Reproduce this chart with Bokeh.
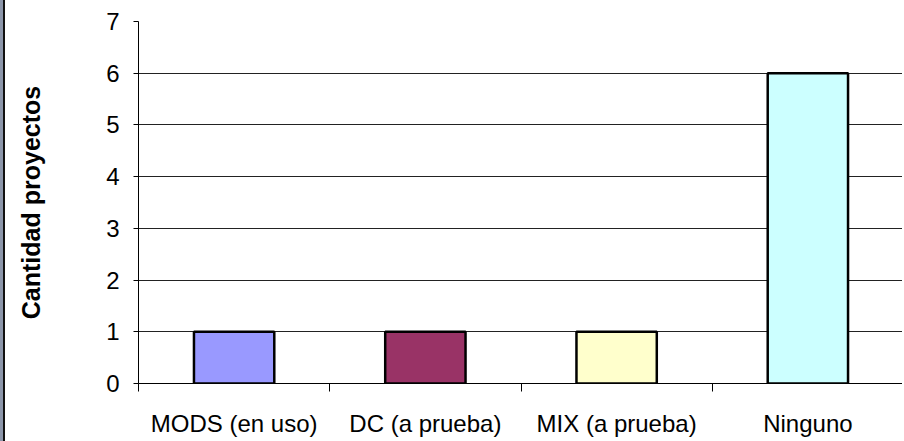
from bokeh.plotting import figure
from bokeh.models import ColumnDataSource, FixedTicker, Range1d
from bokeh.embed import file_html
from bokeh.resources import INLINE

categories = ["MODS (en uso)", "DC (a prueba)", "MIX (a prueba)", "Ninguno"]
values = [1, 1, 1, 6]
colors = ["#9999FF", "#993366", "#FFFFCC", "#CCFFFF"]
y_ticks = [0, 1, 2, 3, 4, 5, 6, 7]
y_title = "Cantidad proyectos"

centers = [i + 0.5 for i in range(len(categories))]
src = ColumnDataSource(dict(x=centers, top=values, color=colors, name=categories))

FONT = "Liberation Sans"

p = figure(width=899, height=441, output_backend="svg", toolbar_location=None,
           x_range=Range1d(0, len(categories)), y_range=Range1d(0, 7),
           min_border_left=133, min_border_right=1, min_border_top=21, min_border_bottom=58)
p.styles = {"margin-left": "3px", "border-left": "2px solid #111111",
            "box-shadow": "-3px 0 0 #8c96aa"}
p.outline_line_color = None
p.background_fill_color = "white"
p.border_fill_color = "white"

p.vbar(x="x", top="top", bottom=0, width=0.42, source=src, fill_color="color",
       line_color="black", line_width=2.5)

# x axis: labels at centers, ticks at category boundaries
p.xaxis.ticker = FixedTicker(ticks=centers, minor_ticks=list(range(len(categories) + 1)))
p.xaxis.major_label_overrides = {c: n for c, n in zip(centers, categories)}
p.xaxis.major_tick_out = 0
p.xaxis.major_tick_in = 0
p.xaxis.minor_tick_out = 8
p.xaxis.minor_tick_in = 0
p.xaxis.minor_tick_line_color = "black"
p.xaxis.axis_line_color = "black"
p.xaxis.major_label_text_font = FONT
p.xaxis.major_label_text_font_size = "24px"
p.xaxis.major_label_text_color = "black"
p.xaxis.major_label_standoff = 18
p.xgrid.grid_line_color = None

p.yaxis.ticker = FixedTicker(ticks=y_ticks)
p.yaxis.major_tick_out = 5
p.yaxis.major_tick_in = 0
p.yaxis.minor_tick_line_color = None
p.yaxis.axis_line_color = "black"
p.yaxis.major_tick_line_color = "black"
p.yaxis.major_label_text_font = FONT
p.yaxis.major_label_text_font_size = "24px"
p.yaxis.major_label_text_color = "black"
p.yaxis.major_label_standoff = 14
p.yaxis.axis_label = y_title
p.yaxis.axis_label_text_font = FONT
p.yaxis.axis_label_text_font_style = "bold"
p.yaxis.axis_label_text_font_size = "25px"
p.yaxis.axis_label_text_color = "black"
p.yaxis.axis_label_standoff = 58
p.ygrid.grid_line_color = "#222222"
p.ygrid.grid_line_width = 1

open("out.html", "w").write(file_html(p, INLINE))
